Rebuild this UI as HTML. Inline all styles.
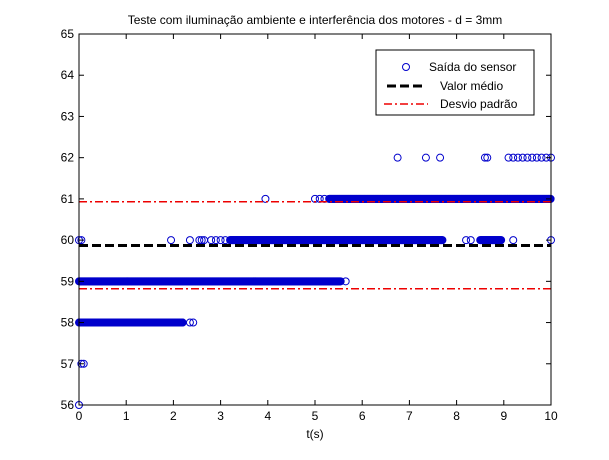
<!DOCTYPE html>
<html><head><meta charset="utf-8"><style>
body{margin:0;background:#fff;}
svg text{font-family:"Liberation Sans",sans-serif;font-size:12px;fill:#000;}
</style></head><body>
<svg id="chart" width="609" height="455" xmlns="http://www.w3.org/2000/svg">
<rect x="0" y="0" width="609" height="455" fill="#fff"/>
<text x="315" y="24" text-anchor="middle">Teste com iluminação ambiente e interferência dos motores - d = 3mm</text>
<g id="marks"></g>
<g id="axes"></g>
<g>
<rect x="376" y="50" width="158" height="65" fill="#fff" stroke="#000"/>
<circle cx="406" cy="67" r="3.5" fill="none" stroke="#0000cc"/>
<text x="429" y="71">Saída do sensor</text>
<line x1="387" y1="86" x2="425" y2="86" stroke="#000" stroke-width="3" stroke-dasharray="9,4"/>
<text x="440" y="90">Valor médio</text>
<line x1="384" y1="104" x2="428" y2="104" stroke="#e00" stroke-width="1.5" stroke-dasharray="8,3,2,3"/>
<text x="440" y="108">Desvio padrão</text>
</g>
<text x="315" y="438" text-anchor="middle">t(s)</text>
</svg>
<script>
const xTicks=[0,1,2,3,4,5,6,7,8,9,10];
const yTicks=[56,57,58,59,60,61,62,63,64,65];
const levels=[56,57,58,59,60,61,62];
const denseRuns=[[],[],[[0,2.2]],[[0,5.55]],[[3.2,7.7],[8.5,8.95]],[[5.3,10]],[]];
const isolated=[[0],[0.05,0.1],[2.35,2.42],[5.65],[0,0.05,1.95,2.35,2.55,2.6,2.65,2.8,2.9,3.0,3.1,8.2,8.3,9.2,10],[3.95,5.0,5.1,5.2],[6.75,7.35,7.65,8.6,8.65,9.1,9.2,9.3,9.4,9.5,9.6,9.7,9.8,9.9,10]];
const meanValue=59.87;
const stdValues=[60.93,58.82];
const X0=79,X1=551,Y0=405,Y1=34;
const xs=t=>X0+(t-0)/(10-0)*(X1-X0);
const ys=v=>Y0-(v-56)/(65-56)*(Y0-Y1);
const NS="http://www.w3.org/2000/svg";
const marks=document.getElementById('marks'),axes=document.getElementById('axes');
function mk(tag,a,p){const e=document.createElementNS(NS,tag);for(const k in a)e.setAttribute(k,a[k]);p.appendChild(e);return e;}
function dot(t,v){const c=mk('circle',{cx:xs(t),cy:ys(v),r:3.5,fill:'none',stroke:'#0000cc'},marks);

}
levels.forEach((v,i)=>{
 denseRuns[i].forEach(r=>{for(let t=r[0];t<=r[1];t+=0.012)dot(t,v);});
 isolated[i].forEach(t=>dot(t,v));
});
const ml=mk('line',{x1:xs(0),x2:xs(10),y1:ys(meanValue),y2:ys(meanValue),stroke:'#000','stroke-width':3,'stroke-dasharray':'9,4'},marks);


stdValues.forEach(v=>{const l=mk('line',{x1:xs(0),x2:xs(10),y1:ys(v),y2:ys(v),stroke:'#e00','stroke-width':1.5,'stroke-dasharray':'8,3,2,3'},marks);

});
const fr=mk('rect',{x:X0,y:Y1,width:X1-X0,height:Y0-Y1,fill:'none',stroke:'#000'},axes);


xTicks.forEach(t=>{const x=xs(t);
 mk('line',{x1:x,x2:x,y1:Y0,y2:Y0-5,stroke:'#000'},axes);
 mk('line',{x1:x,x2:x,y1:Y1,y2:Y1+5,stroke:'#000'},axes);
 const tx=mk('text',{x:x,y:Y0+15,'text-anchor':'middle'},axes);tx.textContent=t;
 
 });
yTicks.forEach(v=>{const y=ys(v);
 mk('line',{x1:X0,x2:X0+5,y1:y,y2:y,stroke:'#000'},axes);
 mk('line',{x1:X1,x2:X1-5,y1:y,y2:y,stroke:'#000'},axes);
 const tx=mk('text',{x:X0-5,y:y+4,'text-anchor':'end'},axes);tx.textContent=v;
 
 });
</script>
</body></html>
